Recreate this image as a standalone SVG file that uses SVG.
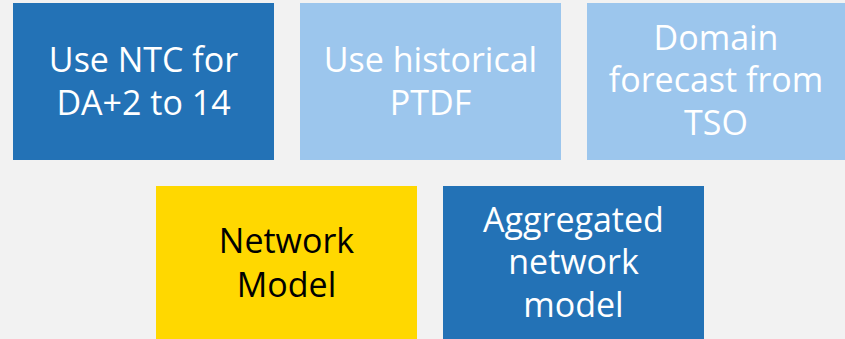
<svg xmlns="http://www.w3.org/2000/svg" width="845" height="339" viewBox="0 0 845 339">
  <style>
    .dark { fill: #2372b6; }
    .light { fill: #9cc6ed; }
    .yellow { fill: #ffd800; }
    text { font-family: "Open Sans", "Liberation Sans", sans-serif; font-size: 34px; text-anchor: middle; }
    .w { fill: #ffffff; }
    .k { fill: #000000; }
  </style>
  <rect width="845" height="339" fill="#f2f2f2"/>

  <g id="ntc">
    <rect class="dark" x="13" y="3" width="261" height="157"/>
    <text class="w" x="143.5" y="72">Use NTC for</text>
    <text class="w" x="143.5" y="115">DA+2 to 14</text>
  </g>

  <g id="ptdf">
    <rect class="light" x="300" y="3" width="261" height="157"/>
    <text class="w" x="430.5" y="72">Use historical</text>
    <text class="w" x="430.5" y="115">PTDF</text>
  </g>

  <g id="domain">
    <rect class="light" x="587" y="3" width="258" height="157"/>
    <text class="w" x="716" y="50">Domain</text>
    <text class="w" x="716" y="92">forecast from</text>
    <text class="w" x="716" y="135">TSO</text>
  </g>

  <g id="network">
    <rect class="yellow" x="156" y="186" width="261" height="153"/>
    <text class="k" x="286.5" y="253">Network</text>
    <text class="k" x="286.5" y="297">Model</text>
  </g>

  <g id="aggregated">
    <rect class="dark" x="443" y="186" width="261" height="153"/>
    <text class="w" x="573.5" y="232">Aggregated</text>
    <text class="w" x="573.5" y="274">network</text>
    <text class="w" x="573.5" y="317">model</text>
  </g>

  <g id="connectors"/>
</svg>
